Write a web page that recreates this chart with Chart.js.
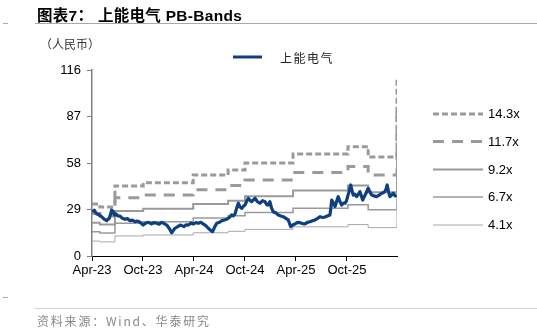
<!DOCTYPE html>
<html><head><meta charset="utf-8">
<script src="https://cdn.jsdelivr.net/npm/chart.js@4"></script>
<style>
html,body{margin:0;padding:0;background:#fff;}
#wrap{position:relative;width:537px;height:331px;overflow:hidden;font-family:"Liberation Sans","Noto Sans CJK SC",sans-serif;}
#c{position:absolute;left:0;top:0;}
.t{position:absolute;white-space:nowrap;}
</style></head>
<body>
<div id="wrap">
<canvas id="c" width="537" height="331"></canvas>
<div class="t" style="left:37px;top:3px;font-size:15.5px;font-weight:bold;color:#000;letter-spacing:0.3px;">图表7：&nbsp;上能电气 PB-Bands</div>
<div style="position:absolute;left:35px;top:23px;width:502px;height:1px;background:#9eabbd;"></div>
<div style="position:absolute;left:3px;top:23px;width:5px;height:1px;background:#9eabbd;"></div>
<div class="t" style="left:40px;top:35px;font-size:12px;color:#333;font-family:'Noto Sans CJK SC';">（人民币）</div>
<div class="t" style="left:280px;top:49px;font-size:12px;color:#222;letter-spacing:1.5px;font-family:'Noto Sans CJK SC';">上能电气</div>
<svg style="position:absolute;left:0;top:0;" width="537" height="331">
<line x1="233" y1="57" x2="262" y2="57" stroke="#0e3f80" stroke-width="3"/>
<line x1="433" y1="114" x2="483" y2="114" stroke="#9a9a9a" stroke-width="3" stroke-dasharray="6,3"/>
<line x1="433" y1="141.5" x2="483" y2="141.5" stroke="#9a9a9a" stroke-width="3" stroke-dasharray="11,8"/>
<line x1="433" y1="169.5" x2="483" y2="169.5" stroke="#9a9a9a" stroke-width="2"/>
<line x1="433" y1="197" x2="483" y2="197" stroke="#9a9a9a" stroke-width="1.5"/>
<line x1="433" y1="225" x2="483" y2="225" stroke="#a8a8a8" stroke-width="1"/>
</svg>
<div class="t" style="left:488px;top:106px;font-size:13px;color:#000;">14.3x</div>
<div class="t" style="left:488px;top:134px;font-size:13px;color:#000;">11.7x</div>
<div class="t" style="left:488px;top:162px;font-size:13px;color:#000;">9.2x</div>
<div class="t" style="left:488px;top:189px;font-size:13px;color:#000;">6.7x</div>
<div class="t" style="left:488px;top:217px;font-size:13px;color:#000;">4.1x</div>
<div style="position:absolute;left:35px;top:308px;width:502px;height:1px;background:#c9d0da;"></div>
<div style="position:absolute;left:3px;top:297px;width:5px;height:1px;background:#9eabbd;"></div>
<div class="t" style="left:37px;top:312px;font-size:12px;color:#888;letter-spacing:1.8px;font-family:'Noto Sans CJK SC';">资料来源：Wind、华泰研究</div>
</div>
<script>
// x positions are weeks since Apr-23
const tickWeeks = [0, 26, 52, 78, 104, 130];
const tickLabels = ['Apr-23', 'Oct-23', 'Apr-24', 'Oct-24', 'Apr-25', 'Oct-25'];
const yTicks = [0, 29, 58, 87, 116];

const priceWeeks = [0,1.2,2.4,3.5,4.9,6,7.5,8.2,8.8,9.5,10,10.5,10.9,11.5,12.2,13.2,14.3,15.5,16.8,18,19.4,20.5,21.9,23,24.5,26.1,27.3,28.7,30.4,31.5,33,34.2,35.5,36.8,38.1,39.5,40.6,41.5,42.3,43.5,44.9,46,46.9,48,49.1,50.5,51.6,53,54.2,55.5,56.7,58,59.3,60.5,61.5,62.5,63.6,65,66.1,67.5,68.7,70,71.2,72,72.9,73.8,74.6,75.5,76.3,77.2,78,79,79.7,80.5,81.4,82.3,83.1,84.3,85.6,87,88.2,89.2,89.9,90.7,91.5,92.4,93.8,95,96.3,97.5,98.8,100.1,100.8,101.3,102.5,103.5,104.8,106,107.3,108.6,109.8,111.1,112.5,113.7,115,116.2,117.5,118.8,120,121.3,121.8,122.2,123,123.9,124.7,125.5,126.4,127.3,128.2,129,129.6,130.1,131,131.9,132.5,133.2,134,134.9,135.8,136.6,137.3,138,138.8,139.7,140.3,140.8,141.7,142.6,143.8,145.1,146.4,147.7,148.5,149.3,150,150.5,151.2,151.9,152.8,153.6,154.5,155.3];
const priceValues = [27.6,28.5,26.2,25.8,24.5,23.2,22.0,23.0,23.5,26.0,28.7,28.0,27.6,25.5,26.2,25.0,24.9,23.5,22.9,23.3,22.0,22.4,21.4,21.8,21.0,19.3,20.4,21.0,20.0,20.8,20.4,19.8,21.0,20.2,19.3,17.0,14.5,16.0,17.3,18.2,19.3,18.8,18.3,19.5,19.3,20.5,20.0,20.8,20.4,21.0,20.0,19.0,17.3,16.0,15.2,18.0,20.4,21.0,22.0,22.5,22.9,24.0,25.6,25.0,26.2,30.0,32.9,30.5,29.7,31.0,31.8,34.5,36.0,34.8,33.9,35.0,36.0,34.0,32.9,34.5,33.9,31.8,31.8,33.9,30.0,27.6,26.8,25.6,25.0,24.5,23.5,22.5,20.0,18.3,19.5,20.0,21.0,20.8,20.2,20.0,21.0,21.4,22.0,22.5,23.5,24.5,24.0,24.3,25.0,25.6,30.0,34.9,33.0,30.8,34.0,37.0,34.0,31.8,33.0,32.9,34.0,36.0,40.0,44.3,41.0,38.0,38.5,37.0,38.5,40.1,37.5,34.9,37.0,39.1,41.0,42.2,40.0,38.0,37.5,37.0,38.0,39.1,39.5,40.1,42.0,44.3,40.0,37.0,38.0,39.1,37.5,38.0];

const bandWeeks = [0, 4, 11.7, 26.1, 51.6, 69.4, 78, 102.5, 130.5, 140.8, 155.3, 155.5];
const band143 = [32.4, 30.6, 43.7, 45.7, 50.5, 53.6, 58.0, 63.6, 68.2, 61.7, 61.7, 110];
const band117 = [26.5, 25.0, 36.4, 38.0, 41.3, 43.9, 47.4, 52.0, 55.8, 50.5, 50.5, 90];
const band92  = [20.8, 19.7, 28.1, 29.4, 32.5, 34.5, 37.3, 40.9, 43.9, 39.7, 39.7, 70.8];
const band67  = [15.2, 14.3, 20.5, 21.4, 23.7, 25.1, 27.2, 29.8, 31.9, 28.9, 28.9, 51.5];
const band41  = [9.3, 8.8, 12.5, 13.1, 14.5, 15.4, 16.6, 18.2, 19.6, 17.7, 17.7, 31.5];

const pts = (xs, ys) => xs.map((x, i) => ({x: x, y: ys[i]}));
const bandDs = (label, ys, width, dash, color) => ({
  label, data: pts(bandWeeks, ys), stepped: 'before', borderColor: color,
  borderWidth: width, borderDash: dash, pointRadius: 0, fill: false, order: 1
});

new Chart(document.getElementById('c'), {
  type: 'line',
  data: {
    datasets: [
      {label: '上能电气', data: pts(priceWeeks, priceValues), borderColor: '#0e3f80', borderWidth: 3.2,
       pointRadius: 0, tension: 0, fill: false, order: 0, borderJoinStyle: 'round'},
      bandDs('14.3x', band143, 3, [6, 3], '#9a9a9a'),
      bandDs('11.7x', band117, 3, [11, 8], '#9a9a9a'),
      bandDs('9.2x', band92, 2, [], '#9a9a9a'),
      bandDs('6.7x', band67, 1.5, [], '#9a9a9a'),
      bandDs('4.1x', band41, 1, [], '#a8a8a8')
    ]
  },
  options: {
    responsive: false, animation: false, devicePixelRatio: 1,
    layout: {padding: {left: 0, top: 70, right: 140, bottom: 0}},
    plugins: {legend: {display: false}, tooltip: {enabled: false}},
    scales: {
      x: {
        type: 'linear', min: 0, max: 155.5,
        afterBuildTicks: s => { s.ticks = tickWeeks.map(v => ({value: v})); },
        afterFit: s => { s.height = 75; },
        ticks: {callback: (v, i) => tickLabels[i], autoSkip: false, maxRotation: 0, color: '#000',
                font: {size: 13, family: 'Liberation Sans'}, padding: 2},
        grid: {drawOnChartArea: false, tickLength: 5, color: '#000'},
        border: {color: '#000', width: 1}
      },
      y: {
        min: 0, max: 116,
        afterBuildTicks: s => { s.ticks = yTicks.map(v => ({value: v})); },
        afterFit: s => { s.width = 92; },
        ticks: {color: '#000', font: {size: 13, family: 'Liberation Sans'}, padding: 6},
        grid: {drawOnChartArea: false, tickLength: 5, color: '#808080'},
        border: {color: '#808080', width: 1.5}
      }
    }
  }
});
</script>
</body></html>
